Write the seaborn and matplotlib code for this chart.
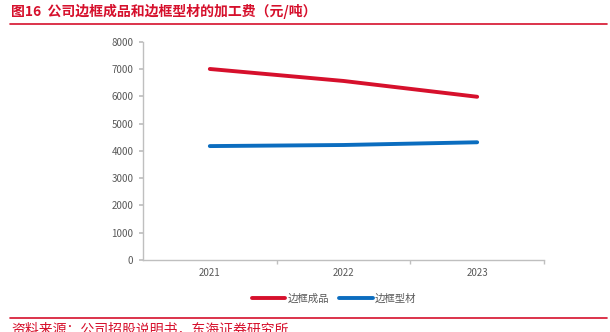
import matplotlib
matplotlib.use("Agg")
import matplotlib.pyplot as plt
import seaborn as sns
import pandas as pd
from matplotlib.lines import Line2D

years = ["2021", "2022", "2023"]
finished = [7010, 6570, 5990]
profile = [4180, 4220, 4320]
series_names = ["边框成品", "边框型材"]
title = "图16  公司边框成品和边框型材的加工费（元/吨）"
source = "资料来源：公司招股说明书，东海证券研究所"

sns.set_theme(style="white")
plt.rcParams['font.family'] = ['Noto Sans CJK SC', 'DejaVu Sans']

df = pd.DataFrame({
    "year": years * 2,
    "value": finished + profile,
    "series": [series_names[0]] * 3 + [series_names[1]] * 3,
})

red = "#D6102C"
blue = "#0B6DBF"
gray = "#BFBFBF"
txtgray = "#595959"

fig = plt.figure(figsize=(6.1, 3.32), dpi=100)
ax = fig.add_axes([0.2344, 0.2169, 0.6574, 0.6566])
sns.lineplot(data=df, x="year", y="value", hue="series", palette=[red, blue],
             linewidth=2.8, ax=ax, legend=False, sort=False)

ax.set_xlim(-0.5, 2.5)
ax.set_ylim(0, 8000)
ax.set_yticks(range(0, 8001, 1000))
ax.set_xlabel("")
ax.set_ylabel("")
for s in ["top", "right"]:
    ax.spines[s].set_visible(False)
for s in ["left", "bottom"]:
    ax.spines[s].set_color(gray)
    ax.spines[s].set_linewidth(1.0)
ax.tick_params(axis="y", length=3, color=gray, labelsize=7, labelcolor=txtgray, pad=4, left=True)
ax.tick_params(axis="x", which="major", length=0, labelsize=7, labelcolor=txtgray, pad=6)
ax.set_xticks([0.5, 1.5, 2.5], minor=True)
ax.tick_params(axis="x", which="minor", length=3, color=gray, bottom=True)

handles = [Line2D([0], [0], color=red, lw=2.8), Line2D([0], [0], color=blue, lw=2.8)]
fig.legend(handles, series_names, loc="center", bbox_to_anchor=(0.548, 0.1), ncol=2,
           frameon=False, fontsize=7.5, handlelength=3.2, handletextpad=0.2,
           columnspacing=1.0, labelcolor=txtgray)

fig.text(0.018, 0.965, title, color=red, fontsize=10, fontweight="bold", va="center", ha="left")
fig.add_artist(Line2D([0.016, 0.995], [0.927, 0.927], color=red, lw=1.2, transform=fig.transFigure))
fig.add_artist(Line2D([0.016, 0.995], [0.042, 0.042], color=red, lw=1.2, transform=fig.transFigure))
fig.text(0.018, 0.03, source, color=red, fontsize=10, va="top", ha="left")

fig.savefig("out.png", dpi=100)
